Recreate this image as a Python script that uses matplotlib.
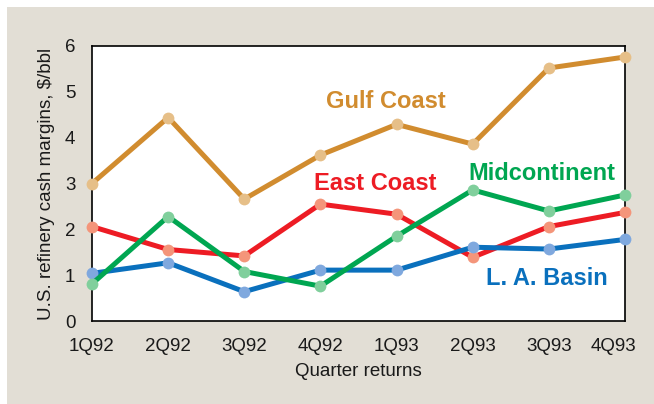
import numpy as np
import matplotlib
matplotlib.use("Agg")
import matplotlib.pyplot as plt
import matplotlib.transforms as mtransforms
from matplotlib.patches import Rectangle

plt.rcParams["font.family"] = ["Liberation Sans", "DejaVu Sans"]

quarters = ["1Q92", "2Q92", "3Q92", "4Q92", "1Q93", "2Q93", "3Q93", "4Q93"]

gulf_coast = [3.00, 4.44, 2.66, 3.62, 4.29, 3.86, 5.52, 5.76]
east_coast = [2.06, 1.56, 1.42, 2.55, 2.33, 1.39, 2.06, 2.37]
midcontinent = [0.81, 2.28, 1.08, 0.76, 1.85, 2.86, 2.40, 2.75]
la_basin = [1.04, 1.27, 0.64, 1.11, 1.11, 1.61, 1.57, 1.78]

series = [
    ("Gulf Coast", gulf_coast, "#d18c2f", "#e6bf88", 3.86, 4.65),
    ("East Coast", east_coast, "#ed1c24", "#f4957a", 3.72, 2.86),
    ("L. A. Basin", la_basin, "#0a70bd", "#7fa8de", 5.98, 0.79),
    ("Midcontinent", midcontinent, "#00a651", "#80cf9c", 5.91, 3.07),
]

fig = plt.figure(figsize=(6.54, 4.04), dpi=100)
fig.patch.set_facecolor("white")
fig.patches.append(Rectangle((7 / 654, 0), 647 / 654, 397 / 404,
                             transform=fig.transFigure, facecolor="#e2ded5",
                             edgecolor="none", zorder=-10))

ax = fig.add_axes([92 / 654, (404 - 321) / 404, 533 / 654, 275 / 404])
ax.set_facecolor("white")

x = np.arange(len(quarters))
for name, vals, col, mcol, tx, ty in series:
    ax.plot(x, vals, color=col, lw=3.6, solid_capstyle="round", zorder=3,
            clip_on=False)
    ax.plot(x, vals, ls="none", marker="o", ms=8.5, color=mcol, mec="none",
            zorder=3, clip_on=False)
    ax.text(tx, ty, name, color=col, fontsize=17, fontweight="bold",
            ha="center", va="baseline", zorder=4)

ax.set_xlim(0, 7)
ax.set_ylim(0, 6)
ax.set_xticks(x)
ax.set_xticklabels(quarters)
ax.set_yticks(range(7))
ax.set_xticks(x[1:-1], minor=True)
ax.set_yticks(range(1, 6), minor=True)
ax.tick_params(which="major", length=0, labelsize=13.5, pad=12,
               labelcolor="#1a1a1a")
ax.tick_params(which="minor", direction="in", length=16, width=1.4,
               color="#333333")

# last quarter label sits a little left of its point in the original
last = ax.get_xticklabels()[-1]
last.set_transform(last.get_transform() +
                   mtransforms.ScaledTranslation(-0.12, 0, fig.dpi_scale_trans))

for s in ax.spines.values():
    s.set_color("black")
    s.set_linewidth(1.2)

ax.set_ylabel("U.S. refinery cash margins, $/bbl", fontsize=13.5, labelpad=7,
              color="#1a1a1a")
ax.set_xlabel("Quarter returns", fontsize=13.5, labelpad=6, color="#1a1a1a")

fig.savefig("out.png", dpi=100)
